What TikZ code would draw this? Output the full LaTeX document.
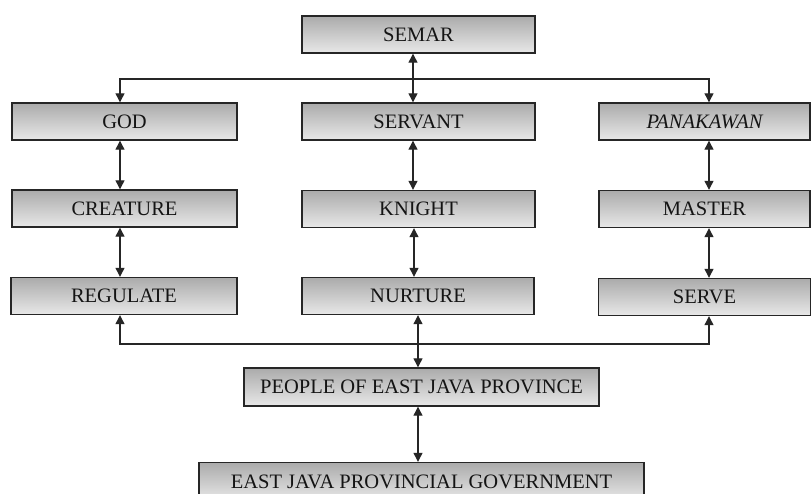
\documentclass[tikz,border=0pt]{standalone}
\usepackage{fontspec}
\setmainfont{Liberation Serif}
\usetikzlibrary{arrows.meta}
\begin{document}
\begin{tikzpicture}[x=1pt,y=-1pt,
  box/.style={draw=black!85, line width=1.4pt, top color=black!33, bottom color=black!9,
    minimum height=37pt, inner sep=0pt, text=black!92,
    font=\fontsize{20.5}{22}\selectfont},
  link/.style={line width=1.2pt, draw=black!85},
  tip/.style={{Triangle[length=9pt,width=9pt]}-{Triangle[length=9pt,width=9pt]}},
  onetip/.style={-{Triangle[length=9pt,width=9pt]}}]
\useasboundingbox (0,0) rectangle (811,493);
\clip (0,0) rectangle (811,493);
\fill[white] (0,0) rectangle (811,493);
% nodes
\node[box, minimum width=233pt] (semar) at (418.5,34.5) {SEMAR};
\node[box, minimum width=225pt] (god) at (124.5,121.5) {GOD};
\node[box, minimum width=233pt] (servant) at (418.5,121.5) {SERVANT};
\node[box, minimum width=211pt] (pana) at (704.5,121.5) {\itshape PANAKAWAN};
\node[box, minimum width=225pt] (creature) at (124.5,208.5) {CREATURE};
\node[box, minimum width=233pt] (knight) at (418.5,209) {KNIGHT};
\node[box, minimum width=211pt] (master) at (704.5,209) {MASTER};
\node[box, minimum width=226pt] (regulate) at (124,296) {REGULATE};
\node[box, minimum width=232pt] (nurture) at (418,296) {NURTURE};
\node[box, minimum width=212pt] (serve) at (704.5,297) {SERVE};
\node[box, minimum width=355pt, minimum height=38pt] (people) at (421.5,387) {PEOPLE OF EAST JAVA PROVINCE};
\node[box, minimum width=445pt, minimum height=38pt] (gov) at (421.5,481.5) {EAST JAVA PROVINCIAL GOVERNMENT};
% top bus
\coordinate (topbus) at (413,79);
\draw[link, tip] ([xshift=-5.5pt]semar.south) -- ([xshift=-5.5pt]servant.north);
\draw[link, onetip] (topbus) -| ([xshift=-4.5pt]god.north);
\draw[link, onetip] (topbus) -| ([xshift=4.5pt]pana.north);
% columns
\draw[link, tip] ([xshift=-4.5pt]god.south) -- ([xshift=-4.5pt]creature.north);
\draw[link, tip] ([xshift=-4.5pt]creature.south) -- ([xshift=-4pt]regulate.north);
\draw[link, tip] ([xshift=-5.5pt]servant.south) -- ([xshift=-5.5pt]knight.north);
\draw[link, tip] ([xshift=-4.5pt]knight.south) -- ([xshift=-4pt]nurture.north);
\draw[link, tip] ([xshift=4.5pt]pana.south) -- ([xshift=4.5pt]master.north);
\draw[link, tip] ([xshift=4.5pt]master.south) -- ([xshift=4.5pt]serve.north);
% bottom bus
\coordinate (botbus) at (418,344);
\draw[link, tip] (nurture.south) -- ([xshift=-3.5pt]people.north);
\draw[link, onetip] (botbus) -| ([xshift=-4pt]regulate.south);
\draw[link, onetip] (botbus) -| ([xshift=4.5pt]serve.south);
\draw[link, tip] ([xshift=-3.5pt]people.south) -- ([xshift=-3.5pt]gov.north);
\end{tikzpicture}
\end{document}
